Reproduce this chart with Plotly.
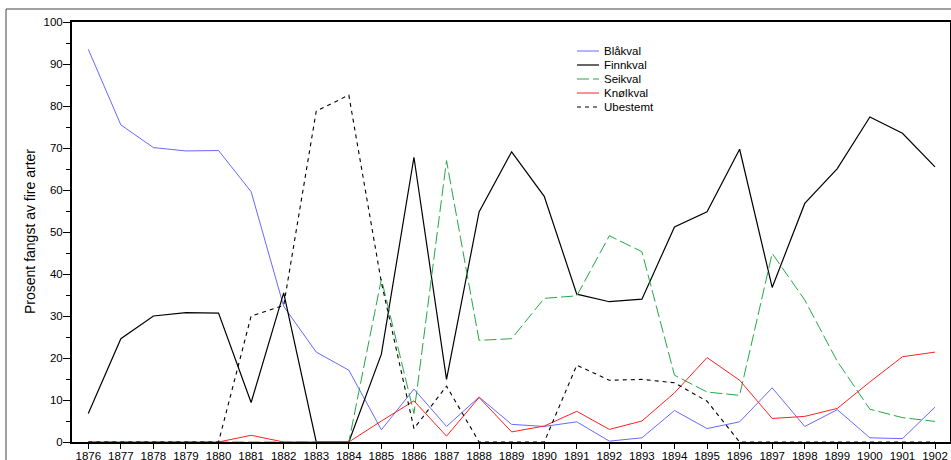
import plotly.graph_objects as go

years = list(range(1876, 1903))

blakval = [93.5, 75.5, 70.1, 69.3, 69.4, 59.6, 32.3, 21.4, 17.1, 2.9, 12.6, 3.7, 10.7, 4.2,
           3.7, 4.8, 0.2, 1.0, 7.5, 3.2, 4.8, 12.9, 3.7, 7.7, 1.0, 0.8, 8.3]
finnkval = [6.8, 24.6, 30.0, 30.8, 30.7, 9.4, 35.5, 0.0, 0.0, 20.9, 67.8, 14.9, 54.8, 69.1,
            58.5, 35.2, 33.4, 34.0, 51.2, 54.8, 69.7, 36.8, 56.8, 65.1, 77.4, 73.5, 65.5]
seikval = [0, 0, 0, 0, 0, 0, 0, 0, 0, 38.8, 6.8, 67.0, 24.2, 24.6,
           34.2, 34.8, 49.1, 45.3, 15.9, 11.9, 11.1, 44.9, 33.8, 19.2, 7.8, 5.8, 4.9]
knolkval = [0, 0, 0, 0, 0, 1.6, 0, 0, 0, 5.0, 9.8, 1.4, 10.6, 2.4,
            3.8, 7.3, 3.0, 5.0, 11.7, 20.1, 14.7, 5.6, 6.1, 8.0, 14.3, 20.3, 21.4]
ubestemt = [0, 0, 0, 0, 0, 30.0, 32.5, 78.8, 82.6, 38.0, 3.2, 13.3, 0, 0,
            0, 18.3, 14.7, 14.9, 14.1, 9.7, 0, 0, 0, 0, 0, 0, 0]

series = [
    ("Blåkval", blakval, "#6868ff", "solid", 1.0),
    ("Finnkval", finnkval, "#000000", "solid", 1.2),
    ("Seikval", seikval, "#22aa44", "12px,4px", 1.0),
    ("Knølkval", knolkval, "#ff2020", "solid", 1.0),
    ("Ubestemt", ubestemt, "#000000", "4px,4px", 1.1),
]

W, H = 951, 460
ML, MR, MT, MB = 72, 1, 22, 18
PW, PH = W - ML - MR, H - MT - MB


def px_x(px):
    return (px - ML) / PW


def px_y(py):
    return (H - MB - py) / PH


fig = go.Figure()
for name, vals, color, dash, w in series:
    fig.add_trace(go.Scatter(x=years, y=vals, name=name, mode="lines",
                             line=dict(color=color, dash=dash, width=w),
                             showlegend=False))

font = "Liberation Sans, Arial, sans-serif"

# legend drawn as key lines + labels (compact spacing like the original)
shapes = [dict(type="rect", xref="paper", yref="paper",
               x0=px_x(6), x1=1.2, y0=-0.2, y1=px_y(9),
               line=dict(color="#444444", width=1), layer="below")]
annotations = []
leg_x0, leg_x1, leg_tx, leg_y0, leg_dy = 577, 599, 602, 51, 14
for i, (name, vals, color, dash, w) in enumerate(series):
    yy = px_y(leg_y0 + i * leg_dy)
    shapes.append(dict(type="line", xref="paper", yref="paper",
                       x0=px_x(leg_x0), x1=px_x(leg_x1), y0=yy, y1=yy,
                       line=dict(color=color, dash=dash, width=w)))
    annotations.append(dict(xref="paper", yref="paper", x=px_x(leg_tx), y=yy,
                            text=name, showarrow=False, xanchor="left", yanchor="middle",
                            font=dict(size=11.5, family=font, color="black")))

# y-axis title
annotations.append(dict(xref="paper", yref="paper", x=px_x(30), y=0.5,
                        text="Prosent fangst av fire arter", textangle=-90,
                        showarrow=False, xanchor="center", yanchor="middle",
                        font=dict(size=14, family=font, color="black")))

fig.update_layout(
    width=W, height=H,
    margin=dict(l=ML, r=MR, t=MT, b=MB, autoexpand=False),
    paper_bgcolor="white", plot_bgcolor="white",
    font=dict(family=font, size=12, color="black"),
    showlegend=False,
    shapes=shapes,
    annotations=annotations,
)

fig.update_xaxes(
    range=[1875.5, 1902.46], automargin=False,
    tickmode="array", tickvals=years, ticktext=[str(y) for y in years],
    ticks="outside", ticklen=5, tickwidth=1, tickcolor="black",
    ticklabelstandoff=-3,
    showline=True, linecolor="black", linewidth=1.5, mirror=True,
    showgrid=False, zeroline=False,
    tickfont=dict(size=11.5, family=font),
)
fig.update_yaxes(
    range=[0, 100], automargin=False,
    tickmode="array", tickvals=list(range(0, 101, 10)),
    ticks="outside", ticklen=7, tickwidth=1, tickcolor="black",
    ticklabelstandoff=-2,
    minor=dict(tickvals=list(range(5, 100, 10)), ticks="outside", ticklen=4,
               tickwidth=1, tickcolor="black", showgrid=False),
    showline=True, linecolor="black", linewidth=2, mirror=True,
    showgrid=False, zeroline=False,
    tickfont=dict(size=11.5, family=font),
)

fig.write_html("out.html", config={"displayModeBar": False},
               post_script="document.body.style.margin='0';document.body.style.overflow='hidden';")
